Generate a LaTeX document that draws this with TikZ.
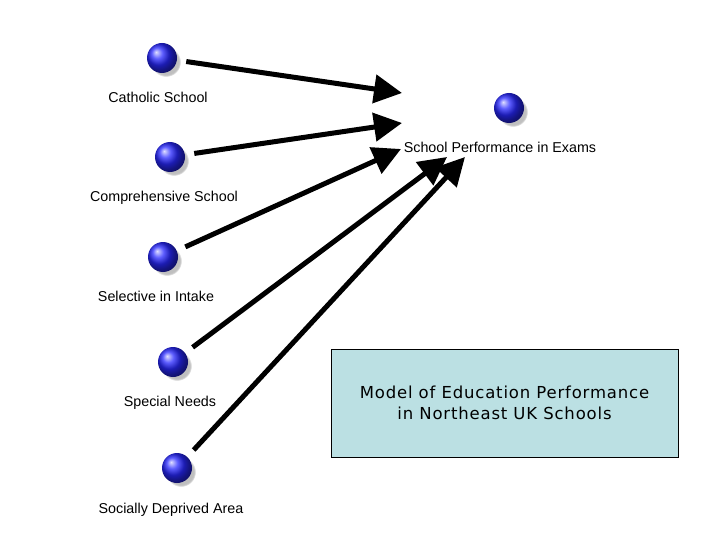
\documentclass[tikz,border=0pt]{standalone}
\usepackage{fontspec}
\setmainfont{Liberation Sans}
\newfontfamily\boxfont[LetterSpace=5]{DejaVu Sans}
\usepackage{tikz}
\usetikzlibrary{positioning,arrows.meta,shadows}
\definecolor{boxblue}{RGB}{187,224,227}
\definecolor{ballblue}{RGB}{40,40,255}

\begin{document}
\begin{tikzpicture}[x=1pt, y=-1pt, >={Triangle[length=28pt,width=28pt]}, line width=5pt]
    % Styles
    \tikzstyle{ball}=[circle, inner sep=0pt, minimum size=30pt, shading=ball, ball color=ballblue, circular drop shadow={shadow xshift=4pt, shadow yshift=-4pt, shadow scale=1, fill=black!25}]
    \tikzstyle{varlabel}=[font=\fontsize{14.3}{17}\selectfont, text height=10pt, text depth=3pt, inner sep=0.333em]
    \tikzstyle{titlebox}=[rectangle, draw, line width=0.6pt, fill=boxblue, align=center, minimum width=347pt, minimum height=108pt, font=\boxfont\fontsize{16.5}{21}\selectfont]

    \useasboundingbox (0,0) rectangle (720,540);

    % Predictors down the left side
    \node (cath) [ball] at (162,58) {};
    \node (comp) [ball] at (170,157) {};
    \node (sel) [ball] at (163,257) {};
    \node (spec) [ball] at (173,362) {};
    \node (soc) [ball] at (177,468) {};

    \node (cathlbl) [varlabel, below=11pt of cath, xshift=-4pt] {Catholic School};
    \node (complbl) [varlabel, below=11pt of comp, xshift=-6pt] {Comprehensive School};
    \node (sellbl) [varlabel, below=11pt of sel, xshift=-7pt] {Selective in Intake};
    \node (speclbl) [varlabel, below=11pt of spec, xshift=-3pt] {Special Needs};
    \node (soclbl) [varlabel, below=12pt of soc, xshift=-6pt] {Socially Deprived Area};

    % Outcome
    \node (perf) [ball] at (509,108) {};
    \node (perflbl) [varlabel, below=11pt of perf, xshift=-9pt] {School Performance in Exams};

    % Caption box
    \node (title) [titlebox] at (504.5,403) {Model of Education Performance\\in Northeast UK Schools};

    % Arrow ends
    \coordinate (end1) at (402,93);
    \coordinate (end2) at (402,123);
    \coordinate (end3) at (401,149);
    \coordinate (end4) at (447,157);
    \coordinate (end5) at (465,157);

    % Arrows
    \draw[->, shorten <=7pt] (cath) -- (end1);
    \draw[->, shorten <=7pt] (comp) -- (end2);
    \draw[->, shorten <=7pt] (sel) -- (end3);
    \draw[->, shorten <=7pt] (spec) -- (end4);
    \draw[->, shorten <=7pt] (soc) -- (end5);

\end{tikzpicture}
\end{document}
